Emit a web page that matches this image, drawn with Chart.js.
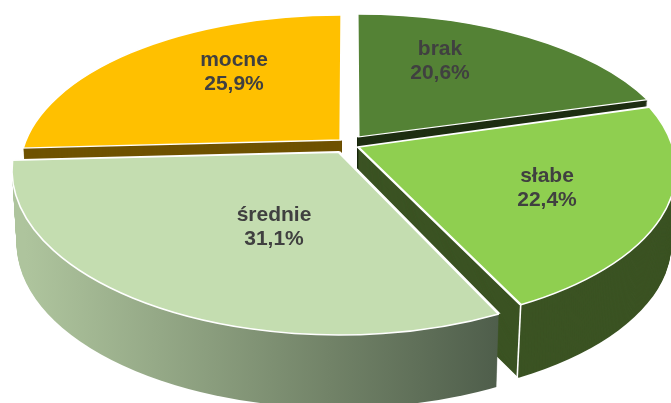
<!DOCTYPE html>
<html>
<head>
<meta charset="utf-8">
<style>
  html, body { margin: 0; padding: 0; background: #fff; }
  canvas { display: block; }
</style>
<script src="https://cdn.jsdelivr.net/npm/chart.js@4"></script>
</head>
<body>
<canvas id="pie3d" width="671" height="403"></canvas>
<script>
const categories = ['brak', 'słabe', 'średnie', 'mocne'];
const shares = [20.6, 22.4, 31.1, 25.9];

const topColors = ['#548235', '#8FCF50', '#C4DDB0', '#FFC000'];
const wallColors = ['#1E2E12', '#3B5323', null, '#6F5200'];

// where each wedge of the tilted pie lands on the page: origin, x axis, y axis,
// and the ellipse (cx, cy, rx, ry) that trims its outer edge
const faces = [
  { o: [358, 137], x: [302, -4], y: [1, 123], e: [358, 168, 323, 154] },
  { o: [358, 147], x: [312, 7], y: [33, 171], e: [358, 170, 318, 157] },
  { o: [339, 152], x: [329, 2], y: [23, 179], e: [339, 170, 327, 165] },
  { o: [341, 140], x: [320, -1], y: [-1, 125], e: [340, 170, 320, 155] }
];
const depth = 73;
const drawOrder = [3, 0, 1, 2];
const overshoot = 1.6;

const labelX = [440, 547, 274, 234];
const labelY = [49, 176, 215, 60];

function drawWedge(ctx, arc, face, d) {
  const shrink = 1 - 0.014 * d / depth;
  const k = overshoot / arc.outerRadius;
  ctx.save();
  ctx.beginPath();
  ctx.ellipse(face.e[0], face.e[1] + d, face.e[2] * shrink, face.e[3], 0, 0, Math.PI * 2);
  ctx.clip();
  ctx.transform(face.x[0] * shrink * k, face.x[1] * k, face.y[0] * shrink * k, face.y[1] * k, face.o[0], face.o[1] + d);
  ctx.translate(-arc.x, -arc.y);
  arc.draw(ctx);
  ctx.restore();
}

function corner(face, angle) {
  return [
    face.o[0] + Math.cos(angle) * face.x[0] + Math.sin(angle) * face.y[0],
    face.o[1] + Math.cos(angle) * face.x[1] + Math.sin(angle) * face.y[1]
  ];
}

function rimAngle(face, p) {
  return Math.atan2((p[1] - face.e[1]) / face.e[3], (p[0] - face.e[0]) / face.e[2]);
}

const pie3d = {
  id: 'pie3d',
  beforeDatasetsDraw(chart) {
    const ctx = chart.ctx;
    const arcs = chart.getDatasetMeta(0).data;
    drawOrder.forEach(i => {
      const arc = arcs[i];
      const base = arc.options;
      const face = faces[i];
      let wall = wallColors[i];
      if (!wall) {
        // the big front wedge has a light to dark rim
        const k = arc.outerRadius / (face.x[0] * overshoot);
        wall = ctx.createLinearGradient(arc.x + (15 - face.o[0]) * k, 0, arc.x + (497 - face.o[0]) * k, 0);
        wall.addColorStop(0, '#AEC49D');
        wall.addColorStop(0.6, '#728368');
        wall.addColorStop(1, '#4B5A48');
      }
      arc.options = { ...base, backgroundColor: wall, borderWidth: 0 };
      for (let d = depth; d > 0; d--) drawWedge(ctx, arc, face, d);
      arc.options = base;
      drawWedge(ctx, arc, face, 0);

      // white outer edge of the top face, trimmed off by the ellipse above
      const a = corner(face, arc.startAngle);
      const b = corner(face, arc.endAngle);
      ctx.save();
      ctx.strokeStyle = '#fff';
      ctx.lineWidth = 1.6;
      ctx.beginPath();
      ctx.ellipse(face.e[0], face.e[1], face.e[2], face.e[3], 0, rimAngle(face, a), rimAngle(face, b));
      ctx.stroke();
      if (i === 1 || i === 2) {
        // and the edge running down from the wedge corner
        ctx.beginPath();
        ctx.moveTo(b[0], b[1]);
        ctx.lineTo(b[0] - 3.5, b[1] + depth);
        ctx.stroke();
      }
      ctx.restore();
    });
    return false;
  },
  afterDraw(chart) {
    const ctx = chart.ctx;
    ctx.save();
    ctx.fillStyle = '#404040';
    ctx.font = 'bold 21px "Liberation Sans"';
    ctx.textAlign = 'center';
    ctx.textBaseline = 'middle';
    categories.forEach((name, i) => {
      ctx.fillText(name, labelX[i], labelY[i]);
      ctx.fillText(shares[i].toFixed(1).replace('.', ',') + '%', labelX[i], labelY[i] + 24);
    });
    ctx.restore();
  }
};

new Chart(document.getElementById('pie3d').getContext('2d'), {
  type: 'pie',
  data: {
    labels: categories,
    datasets: [{
      data: shares,
      backgroundColor: topColors,
      borderColor: '#fff',
      borderWidth: 1.3
    }]
  },
  options: {
    responsive: false,
    animation: false,
    plugins: { legend: { display: false }, tooltip: { enabled: false } }
  },
  plugins: [pie3d]
});
</script>
</body>
</html>
